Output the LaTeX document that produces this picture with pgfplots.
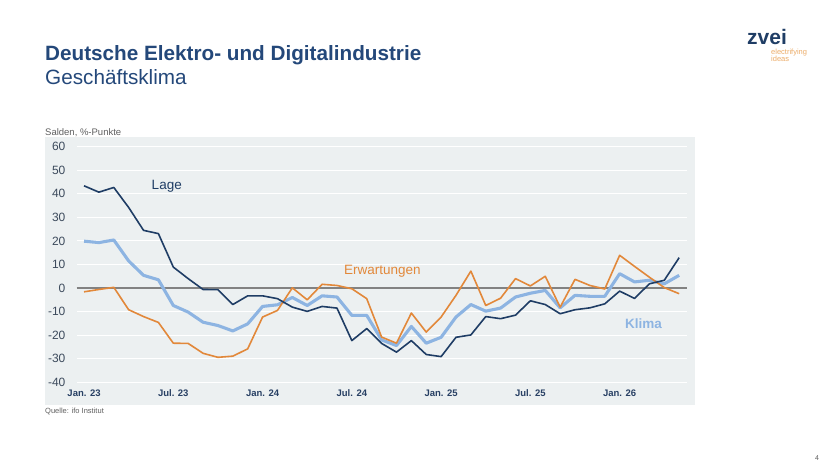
\documentclass[border=0pt]{standalone}
\usepackage{fontspec}
\setmainfont{Liberation Sans}
\usepackage{pgfplots}
\usepackage{pgfplotstable}
\pgfplotsset{compat=1.18}

\definecolor{titleblue}{RGB}{36,72,122}
\definecolor{lageblue}{RGB}{31,61,101}
\definecolor{klimablue}{RGB}{141,180,226}
\definecolor{erworange}{RGB}{226,136,58}
\definecolor{panelgrey}{RGB}{236,240,241}
\definecolor{textgrey}{RGB}{95,95,95}
\definecolor{ticknavy}{RGB}{40,64,100}
\definecolor{numgrey}{RGB}{60,74,92}
\definecolor{zerogrey}{RGB}{130,130,130}
\definecolor{logoorange}{RGB}{236,172,104}

% ifo Geschaeftsklima, Elektro- und Digitalindustrie, Salden in %-Punkten
% m = Monat ab Jan. 23
\pgfplotstableread{
m  lage   klima  erw
0  43.4   19.9   -1.6
1  40.7   19.3   -0.6
2  42.7   20.4    0.3
3  34.2   11.5   -9.2
4  24.5    5.4  -12.1
5  23.1    3.5  -14.6
6   8.9   -7.4  -23.4
7   4.0  -10.2  -23.5
8  -0.6  -14.5  -27.7
9  -0.7  -15.9  -29.4
10 -7.0  -18.2  -28.9
11 -3.3  -15.2  -25.8
12 -3.3   -7.8  -12.3
13 -4.5   -7.1   -9.5
14 -8.1   -4.0    0.1
15 -9.9   -7.4   -5.0
16 -7.8   -3.3    1.6
17 -8.5   -3.8    1.1
18 -22.3 -11.6   -0.3
19 -17.2 -11.6   -4.5
20 -23.5 -22.0  -20.8
21 -27.2 -24.4  -23.4
22 -22.3 -16.3  -10.6
23 -28.2 -23.4  -18.7
24 -29.1 -20.9  -12.3
25 -20.9 -12.3   -3.1
26 -19.9  -7.0    7.2
27 -12.1  -9.8   -7.4
28 -13.0  -8.5   -4.3
29 -11.5  -3.8    4.0
30  -5.4  -2.2    0.9
31  -7.0  -1.0    5.0
32 -10.9  -8.4   -8.1
33  -9.2  -3.1    3.7
34  -8.4  -3.5    1.1
35  -6.7  -3.5   -0.4
36  -1.3   6.1   13.9
37  -4.4   2.6    9.2
38   1.8   3.3    4.6
39   3.3   1.8    0.2
40  12.9   5.4   -2.4
}\datatable

\begin{document}
\begin{tikzpicture}[x=1pt,y=1pt]
\useasboundingbox[fill=white] (0,0) rectangle (840,473);

% Titel
\node[anchor=base west, inner sep=0, text=titleblue,
      font=\fontsize{20.7}{24}\selectfont\bfseries] at (45,412.3)
      {Deutsche Elektro- und Digitalindustrie};
\node[anchor=base west, inner sep=0, text=titleblue,
      font=\fontsize{20.7}{24}\selectfont] at (45,388.7) {Geschäftsklima};

% Logo
\node[anchor=base west, inner sep=0, text=lageblue,
      font=\fontsize{21}{24}\selectfont\bfseries] at (747,428.5) {zvei};
\node[anchor=base west, inner sep=0, text=logoorange,
      font=\fontsize{7.5}{8}\selectfont] at (771,418.5) {electrifying};
\node[anchor=base west, inner sep=0, text=logoorange,
      font=\fontsize{7.5}{8}\selectfont] at (771,411.2) {ideas};

% Diagrammflaeche
\fill[panelgrey] (45,68) rectangle (695,336);
\node[anchor=base west, inner sep=0, text=textgrey,
      font=\fontsize{9.5}{10}\selectfont] at (45,337) {Salden, \%-Punkte};
\node[anchor=base west, inner sep=0, text=textgrey,
      font=\fontsize{7.5}{8}\selectfont] at (45,59.5) {Quelle: ifo Institut};
\node[anchor=base west, inner sep=0, text=textgrey,
      font=\fontsize{7}{8}\selectfont] at (815,12) {4};

\begin{axis}[
  at={(76.6pt,90.7pt)}, anchor=south west,
  scale only axis, width=610pt, height=235.6pt,
  xmin=-0.5, xmax=40.5, ymin=-40, ymax=60,
  ytick={-40,-30,...,60},
  xtick={0,6,...,36},
  xticklabels={Jan. 23, Jul. 23, Jan. 24, Jul. 24, Jan. 25, Jul. 25, Jan. 26},
  axis line style={draw=none},
  major tick style={draw=none},
  ymajorgrids,
  major grid style={white, line width=1pt},
  extra y ticks={0},
  extra y tick labels={},
  extra y tick style={major grid style={zerogrey, line width=1.4pt}},
  /pgf/number format/assume math mode=true,
  yticklabel style={anchor=east, inner sep=0pt, xshift=-11pt,
                    text=numgrey, font=\fontsize{12}{14}\selectfont},
  xticklabel style={anchor=base, inner sep=0pt, yshift=-14.2pt,
                    text=ticknavy, font=\fontsize{9.5}{11}\selectfont\bfseries},
  clip=false,
]
\addplot[klimablue, line width=3.1pt, line join=round] table[x=m, y=klima] {\datatable};
\addplot[erworange, line width=1.6pt, line join=round] table[x=m, y=erw] {\datatable};
\addplot[lageblue, line width=1.6pt, line join=round] table[x=m, y=lage] {\datatable};

\node[text=lageblue, font=\fontsize{13.5}{15}\selectfont] at (axis cs:5.56,43) {Lage};
\node[text=erworange, font=\fontsize{13.5}{15}\selectfont] at (axis cs:20.06,7.05) {Erwartungen};
\node[text=klimablue, font=\fontsize{13.5}{15}\selectfont\bfseries] at (axis cs:37.6,-15) {Klima};
\end{axis}
\end{tikzpicture}
\end{document}
